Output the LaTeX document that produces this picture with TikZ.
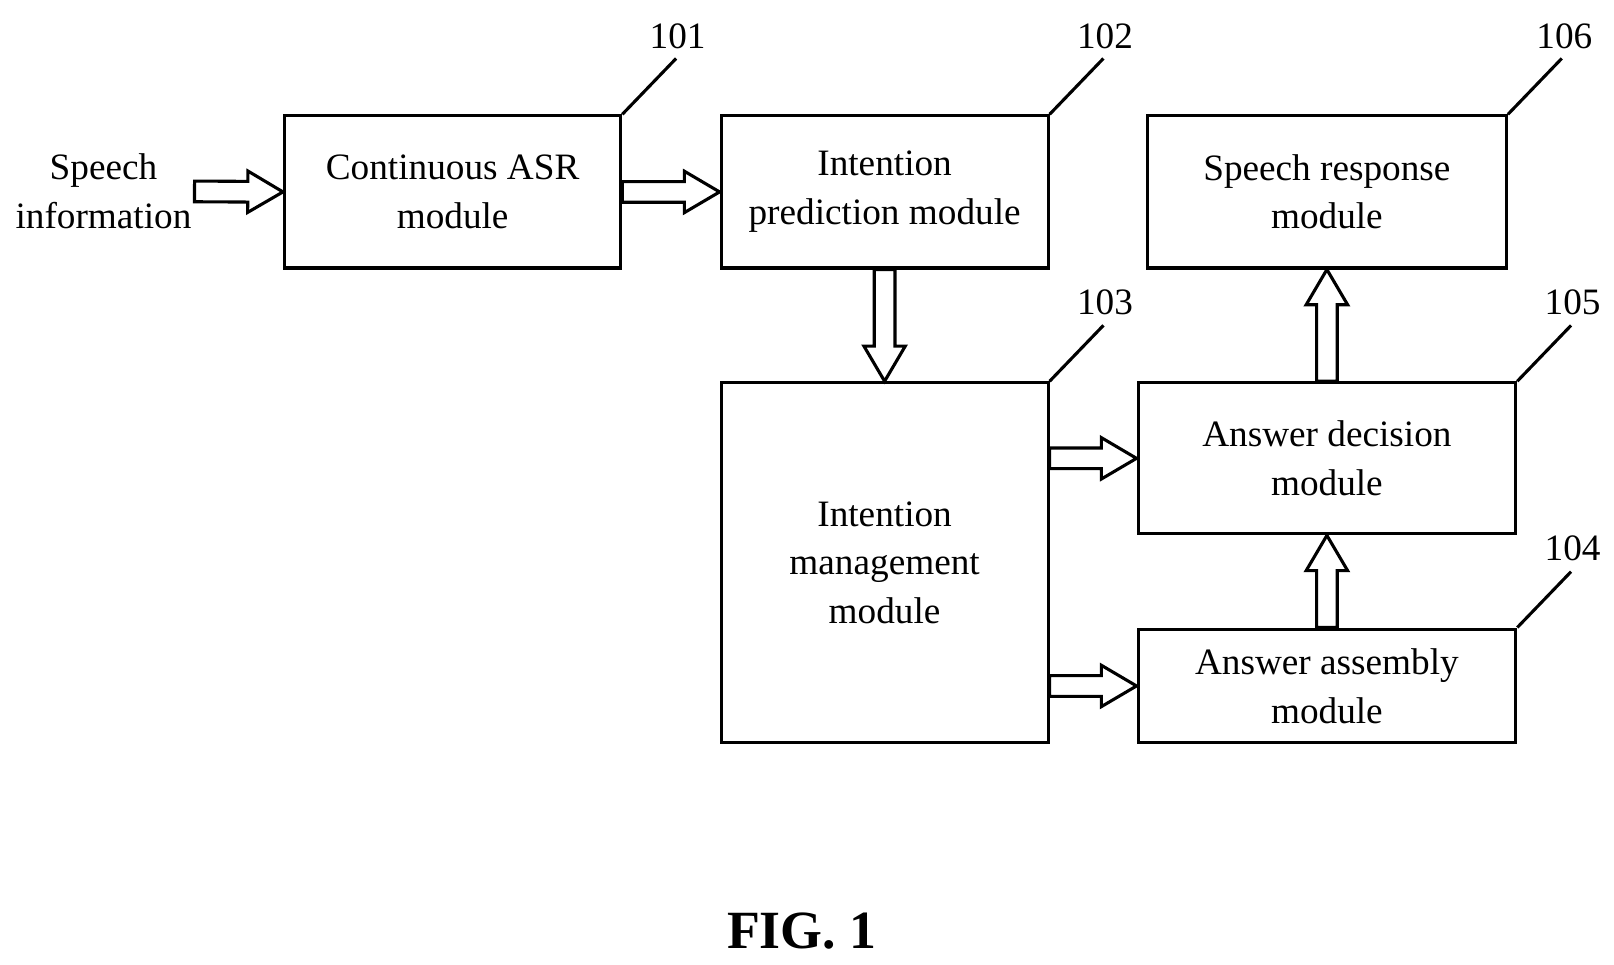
\documentclass[tikz,border=0pt]{standalone}
\usepackage{fontspec}
\setmainfont{Liberation Serif}
\usetikzlibrary{calc}
\newcommand\harr[2]{%
  \path let \p1=(#1), \p2=(#2), \n1={atan2(\y2-\y1,\x2-\x1)}, \n2={veclen(\x2-\x1,\y2-\y1)} in
  [draw, line width=1.5pt, shift={(\p1)}, rotate=\n1]
  (0pt,-5pt) -- ({\n2*1pt-17pt},-5pt) -- ({\n2*1pt-17pt},-10pt) -- ({\n2*1pt},0pt)
  -- ({\n2*1pt-17pt},10pt) -- ({\n2*1pt-17pt},5pt) -- (0pt,5pt) -- cycle;}
\begin{document}
\begin{tikzpicture}[x=0.5pt,y=-0.5pt,
  box/.style={draw,line width=1.5pt,align=center,inner sep=0pt,font=\fontsize{18}{23.5}\selectfont},
  num/.style={font=\fontsize{18}{20}\selectfont},
  lead/.style={line width=1.5pt}]
\useasboundingbox (0,0) rectangle (1560,932);
\node[box,minimum width=162.5pt,minimum height=73.5pt] (b101) at (437.5,185.5) {Continuous ASR\\module};
\node[box,minimum width=158pt,minimum height=73.5pt] (b102) at (855,185.5) {Intention\\prediction module};
\node[box,minimum width=173.5pt,minimum height=73.5pt] (b106) at (1282.5,185.5) {Speech response\\module};
\node[box,minimum width=158pt,minimum height=174pt] (b103) at (855,544) {Intention\\management\\module};
\node[box,minimum width=182.5pt,minimum height=73pt] (b105) at (1282.5,443) {Answer decision\\module};
\node[box,minimum width=182.5pt,minimum height=55pt] (b104) at (1282.5,663) {Answer assembly\\module};
\node[font=\fontsize{18}{23.5}\selectfont,align=center] (sp) at (100,185) {Speech\\information};
\coordinate (spe) at (188,185);
\node[font=\bfseries\fontsize{26}{30}\selectfont] (fig) at (775,900) {FIG. 1};
% numbers
\node[num] (n101) at (655,35) {101};
\node[num] (n102) at (1068,35) {102};
\node[num] (n106) at (1512,35) {106};
\node[num] (n103) at (1068,292) {103};
\node[num] (n105) at (1520,292) {105};
\node[num] (n104) at (1520,530) {104};
\draw[lead] (b101.north east) -- ++(52,-54);
\draw[lead] (b102.north east) -- ++(52,-54);
\draw[lead] (b106.north east) -- ++(52,-54);
\draw[lead] (b103.north east) -- ++(52,-54);
\draw[lead] (b105.north east) -- ++(52,-54);
\draw[lead] (b104.north east) -- ++(52,-54);
% arrows
\harr{spe}{b101.west}
\harr{b101.east}{b102.west}
\harr{b102.south}{b103.north}
\harr{b103.east |- b105.west}{b105.west}
\harr{b103.east |- b104.west}{b104.west}
\harr{b104.north}{b105.south}
\harr{b105.north}{b106.south}
\end{tikzpicture}
\end{document}
